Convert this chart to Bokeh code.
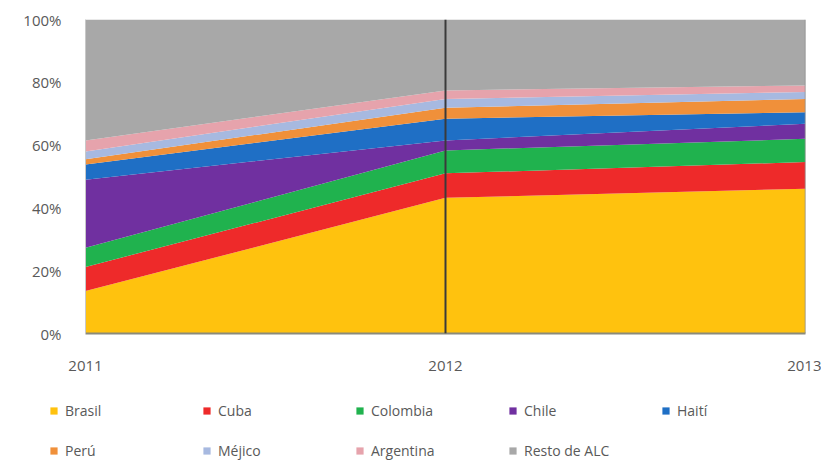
from bokeh.plotting import figure
from bokeh.layouts import column
from bokeh.models import Range1d, FixedTicker, Legend, LegendItem, Span
from bokeh.embed import file_html
from bokeh.resources import INLINE

years = [2011, 2012, 2013]
brasil = [13.5, 43.2, 46.1]
cuba = [7.7, 7.8, 8.5]
colombia = [6.1, 7.3, 7.4]
chile = [21.7, 3.2, 4.8]
haiti = [4.8, 6.9, 3.7]
peru = [1.7, 3.5, 4.2]
mejico = [2.5, 2.8, 2.2]
argentina = [3.5, 2.7, 2.1]
resto = [38.5, 22.6, 21.0]

series_names = ["Brasil", "Cuba", "Colombia", "Chile", "Haití", "Perú", "Méjico", "Argentina", "Resto de ALC"]
series_values = [brasil, cuba, colombia, chile, haiti, peru, mejico, argentina, resto]
colors = ["#FFC20E", "#EE2A2A", "#20B24E", "#7030A0", "#1F6FC5", "#F0903A", "#A7B9E0", "#E6A3AC", "#A8A8A8"]

y_ticks = [0, 20, 40, 60, 80, 100]
y_tick_labels = ["0%", "20%", "40%", "60%", "80%", "100%"]
x_tick_labels = ["2011", "2012", "2013"]

keys = ["s%d" % i for i in range(len(series_names))]
data = {"x": years}
for k, v in zip(keys, series_values):
    data[k] = v

p = figure(width=821, height=380, output_backend="svg", toolbar_location=None,
           x_range=Range1d(years[0], years[-1]), y_range=Range1d(0, 100),
           min_border_left=85, min_border_right=16, min_border_top=19, min_border_bottom=47,
           frame_align=False)

renderers = p.varea_stack(stackers=keys, x="x", color=colors, source=data)

p.xgrid.visible = False
p.ygrid.visible = False
p.outline_line_color = None
p.background_fill_color = "white"
p.border_fill_color = "white"

p.yaxis.ticker = FixedTicker(ticks=y_ticks)
p.yaxis.major_label_overrides = {t: l for t, l in zip(y_ticks, y_tick_labels)}
p.xaxis.ticker = FixedTicker(ticks=years)
p.xaxis.major_label_overrides = {t: l for t, l in zip(years, x_tick_labels)}

for ax in (p.xaxis, p.yaxis):
    ax.major_tick_line_color = None
    ax.minor_tick_line_color = None
    ax.major_label_text_font = "Open Sans"
    ax.major_label_text_font_size = "15px"
    ax.major_label_text_color = "#595959"
p.yaxis.major_label_standoff = 18
p.xaxis.major_label_standoff = 21
p.xaxis.axis_line_color = "#8a8a7a"
p.xaxis.axis_line_width = 2
p.yaxis.axis_line_color = "#c8c8c8"
p.yaxis.axis_line_width = 1

p.add_layout(Span(location=years[1], dimension="height", line_color="#3a3a3a", line_width=2))
p.add_layout(Span(location=years[-1], dimension="height", line_color="#8c8c8c", line_width=1.5))

# legend panel (no axes, frame covers the whole figure)
lg = figure(width=821, height=80, output_backend="svg", toolbar_location=None,
            x_range=Range1d(years[0], years[-1]), y_range=Range1d(0, 1),
            x_axis_location=None, y_axis_location=None,
            min_border_left=0, min_border_right=0, min_border_top=0, min_border_bottom=0,
            frame_align=False)
lg.grid.visible = False
lg.outline_line_color = None
lg.background_fill_color = "white"
lg.border_fill_color = "white"

zeros = [0] * len(years)
items = []
for n, c in zip(series_names, colors):
    r = lg.varea(x=years, y1=zeros, y2=zeros, color=c)
    items.append(LegendItem(label=n, renderers=[r]))

legend = Legend(items=items, location=(49, 0), orientation="horizontal", ncols=5,
                glyph_width=9, glyph_height=9, label_standoff=7, label_width=116,
                label_height=16, spacing=21, padding=0, margin=0,
                border_line_color=None, background_fill_alpha=0,
                label_text_font="Open Sans", label_text_font_size="14px",
                label_text_color="#595959")
lg.add_layout(legend, "center")

layout = column(p, lg, spacing=0)
open("out.html", "w").write(file_html(layout, INLINE))
